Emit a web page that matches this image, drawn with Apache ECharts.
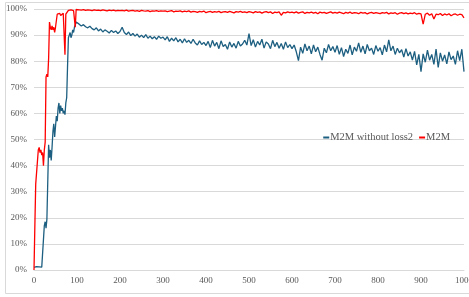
<!DOCTYPE html>
<html>
<head>
<meta charset="utf-8">
<script src="https://cdn.jsdelivr.net/npm/echarts@6/dist/echarts.min.js"></script>
<style>
  html, body { margin: 0; padding: 0; background: #fff; }
  #main { width: 469px; height: 297px; }
</style>
</head>
<body>
<div id="main"></div>
<script>
var labelColor = "#595959";
var gridColor = "#d9d9d9";
var seriesNames = ['M2M without loss2', 'M2M'];

// steps 0..100, every 2 steps
var blueEarly = [1, 1.2, 1, 1.3, 1, 1.5, 1.2, 1, 1.3, 1.1, 1, 1.5, 17, 18.5, 16, 19.5, 20, 48, 43, 46,
  42, 47, 53, 56, 51, 55, 59, 57, 62, 64, 60, 63, 61, 62, 60, 61, 59.5, 64, 66, 78,
  89, 88.5, 91, 89, 90, 92, 91, 93, 94, 95, 94.5];
var redEarly = [0, 17, 33, 33.5, 33.5, 46, 47, 45, 46, 44, 45, 40, 46, 49, 74, 75, 74, 81, 95, 93,
  92, 93.5, 92, 93, 91, 93, 92.5, 98, 98.2, 97.8, 98.3, 97.5, 98.2, 98, 98.4, 97.8, 82.5, 98, 98.2, 98.4,
  99.5, 99.6, 99.4, 99.7, 99.5, 99.6, 99.4, 99.7, 93, 99.8, 99.6];

// steps 105..1000, every 5 steps
var blueLate = [
  94.2, 93.5, 94.0, 93.2, 92.8, 93.4, 92.5, 92.0, 92.8, 91.6, 92.3, 91.2, 92.0, 91.5, 90.8, 91.8, 91.0, 91.6, 90.6, 91.4,
  93.0, 91.0, 90.2, 91.2, 89.8, 90.6, 89.6, 90.4, 89.2, 90.0, 89.0, 90.2, 88.8, 89.6, 88.6, 89.4, 88.4, 89.6, 88.8, 89.2,
  88.2, 89.4, 87.6, 88.8, 87.8, 89.0, 87.4, 88.4, 87.0, 88.6, 87.2, 88.0, 86.8, 88.4, 87.0, 86.2, 87.8, 86.4, 87.2, 86.0,
  87.6, 85.2, 88.0, 85.8, 87.2, 84.8, 87.8, 85.6, 86.4, 84.6, 87.4, 85.4, 86.8, 85.0, 87.6, 85.8, 86.6, 88.0, 86.2, 90.6,
  86.0, 88.2, 85.4, 87.6, 86.2, 88.4, 85.0, 87.4, 86.6, 84.8, 88.0, 85.6, 87.2, 85.0, 86.8, 84.6, 87.4, 85.2, 86.4, 84.8,
  86.2, 83.6, 80.2, 85.4, 83.0, 86.6, 84.0, 85.8, 82.8, 86.2, 83.6, 85.4, 82.6, 80.4, 85.0, 83.2, 86.4, 84.0, 85.6, 83.4,
  86.0, 82.6, 85.2, 81.8, 84.6, 83.0, 86.2, 82.4, 85.4, 83.8, 87.0, 83.4, 85.8, 82.8, 86.4, 84.0, 85.0, 82.6, 86.0, 83.8,
  85.2, 82.4, 86.2, 83.6, 88.2, 84.0, 85.8, 82.6, 85.0, 83.2, 84.4, 81.6, 84.8, 82.0, 83.6, 80.4, 83.8, 78.6, 82.6, 76.0,
  82.8, 79.6, 84.2, 80.4, 82.6, 78.8, 84.6, 77.6, 83.2, 80.0, 82.4, 79.0, 83.6, 80.6, 82.0, 78.8, 84.0, 80.2, 84.6, 76.0];
var redLate = [
  99.7, 99.6, 99.8, 99.5, 99.7, 99.6, 99.4, 99.7, 99.5, 99.6, 99.4, 99.7, 99.5, 99.3, 99.6, 99.4, 99.6, 99.3, 99.5, 99.4,
  99.5, 99.3, 99.6, 99.2, 99.4, 99.5, 99.2, 99.4, 99.1, 99.5, 99.3, 99.2, 99.4, 99.0, 99.3, 99.2, 99.4, 99.1, 99.3, 99.2,
  99.3, 99.0, 99.2, 99.4, 98.9, 99.2, 99.1, 99.3, 98.9, 99.2, 99.0, 99.3, 98.8, 99.1, 99.0, 98.7, 99.1, 98.9, 99.2, 98.6,
  98.9, 99.1, 98.7, 99.0, 98.8, 99.1, 98.6, 98.9, 99.0, 98.7, 99.1, 98.8, 98.5, 99.0, 98.8, 99.1, 98.7, 98.9, 98.6, 99.0,
  98.8, 98.5, 99.0, 98.7, 98.9, 98.4, 98.8, 99.0, 98.6, 98.9, 98.3, 98.8, 98.6, 98.9, 97.6, 98.7, 98.5, 98.9, 98.6, 98.8,
  98.5, 98.9, 98.4, 98.7, 98.9, 98.3, 98.7, 98.5, 98.8, 98.4, 98.7, 98.2, 98.8, 98.5, 98.7, 98.3, 98.6, 98.9, 98.4, 98.7,
  98.4, 98.8, 98.5, 98.2, 98.7, 98.4, 98.8, 98.3, 98.6, 98.5, 98.2, 98.7, 98.4, 98.6, 98.1, 98.5, 98.7, 98.3, 98.6, 98.4,
  98.2, 98.6, 98.4, 98.7, 98.1, 98.5, 98.3, 98.6, 98.0, 98.4, 98.6, 98.2, 98.5, 98.1, 98.4, 98.2, 98.6, 98.0, 98.3, 98.1,
  94.2, 98.0, 98.4, 97.6, 98.2, 96.2, 98.0, 97.8, 98.3, 97.5, 98.1, 97.7, 98.2, 97.4, 97.9, 98.1, 97.6, 98.0, 97.8, 96.6];

function toPoints(early, late) {
  var pts = [];
  early.forEach(function(v, i) { pts.push([i * 2, v]); });
  late.forEach(function(v, i) { pts.push([105 + i * 5, v]); });
  return pts;
}

var myChart = echarts.init(document.getElementById('main'));
var option = {
  animation: false,
  textStyle: { fontFamily: 'Liberation Serif' },
  graphic: [{
    type: 'rect',
    shape: { x: 5.5, y: 2.5, width: 470, height: 291 },
    style: { fill: 'none', stroke: gridColor, lineWidth: 1 },
    silent: true
  }],
  grid: { left: 34, right: 5, top: 9, bottom: 27, containLabel: false, outerBoundsMode: 'none' },
  legend: {
    data: seriesNames,
    right: 14,
    top: 127,
    icon: 'rect',
    itemWidth: 6,
    itemHeight: 2,
    itemGap: 6,
    textStyle: { color: labelColor, fontSize: 10.5, fontFamily: 'Liberation Serif', padding: [0, 0, 0, -4] }
  },
  xAxis: {
    type: 'value',
    min: 0,
    max: 1000,
    interval: 100,
    axisLine: { lineStyle: { color: gridColor } },
    axisTick: { show: false },
    splitLine: { show: false },
    axisLabel: { color: labelColor, fontSize: 9, margin: 6, formatter: function(v) { return String(v); } }
  },
  yAxis: {
    type: 'value',
    min: 0,
    max: 100,
    interval: 10,
    axisLine: { show: false },
    axisTick: { show: false },
    splitLine: { lineStyle: { color: gridColor, width: 1 } },
    axisLabel: { color: labelColor, fontSize: 9, margin: 7, formatter: '{value}%' }
  },
  series: [{
    name: seriesNames[0],
    type: 'line',
    showSymbol: false,
    data: toPoints(blueEarly, blueLate),
    itemStyle: { color: '#1d5f80' },
    lineStyle: { color: '#1d5f80', width: 1.3 }
  }, {
    name: seriesNames[1],
    type: 'line',
    showSymbol: false,
    data: toPoints(redEarly, redLate),
    itemStyle: { color: '#ff0000' },
    lineStyle: { color: '#ff0000', width: 1.3 }
  }]
};
myChart.setOption(option);
</script>
</body>
</html>
